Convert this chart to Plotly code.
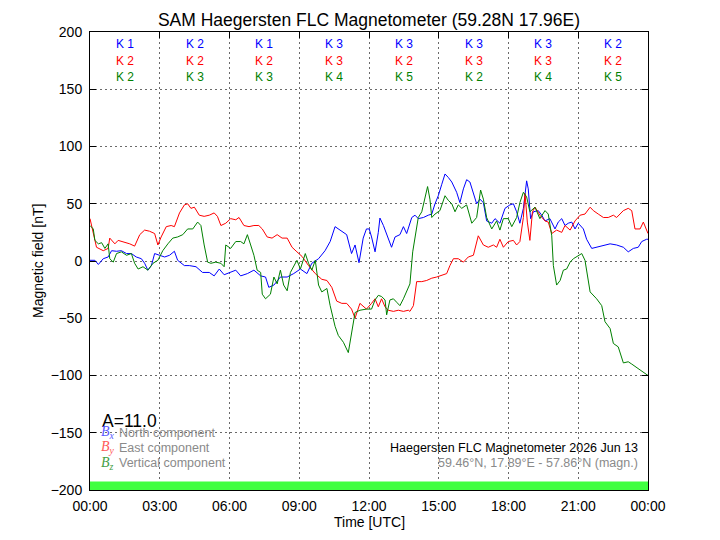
import plotly.graph_objects as go

# ---------------- data (hours UTC, nT) ----------------
t_bx = [0, 0.21, 0.36, 0.57, 0.78, 0.93, 1.14, 1.35, 1.57, 1.78, 1.99, 2.21, 2.35, 2.49, 2.64, 2.78, 2.99,
        3.21, 3.42, 3.63, 3.77, 4.06, 4.27, 4.56, 4.84, 5.13, 5.34, 5.56, 5.77, 6.05, 6.27, 6.48, 6.77, 7.05,
        7.34, 7.55, 7.69, 7.91, 8.19, 8.48, 8.76, 9.05, 9.33, 9.54, 9.83, 10.11, 10.33, 10.54, 10.75, 11.04,
        11.25, 11.40, 11.57, 11.75, 11.89, 12.01,
        12.11, 12.26, 12.40, 12.47, 12.62, 12.76, 12.97, 13.12, 13.33, 13.48, 13.62, 13.84, 13.98, 14.12,
        14.34, 14.55, 14.70, 14.84, 14.98, 15.13, 15.27, 15.41, 15.56, 15.77, 15.91, 16.06, 16.20, 16.34,
        16.49, 16.63, 16.77, 16.92, 17.06, 17.28, 17.42, 17.63, 17.85, 18.06, 18.21, 18.35, 18.49, 18.64,
        18.78, 18.85, 18.95, 19.07, 19.28, 19.43, 19.57, 19.78, 20.00, 20.14, 20.29, 20.43, 20.57, 20.72,
        20.86, 21.00, 21.22, 21.36, 21.58, 21.79, 22.08, 22.37, 22.65, 22.94, 23.15, 23.37, 23.58, 23.73,
        23.94, 24.0]
bx = [0.6, 0.6, -3, 2, 3.5, 9, 8.5, 9, 6.5, 6.5, 3.5, 2, -2, -8, -4, 6.5, 5,
      3.5, 5, 8.5, 0.6, -4, -4, -5, -10, -10, -13, -7, -12, -10, -8, -13, -11, -8,
      -13, -14, -23, -21, -14, -14, -11, -7, -11, -2, 2, 9, 17, 30, 27, 23,
      6.5, 14, -1.5, 20, 28, 28,
      21, 8, 25, 37.5, 31, 24, 12, 21, 23, 30, 24, 38, 40, 37,
      38, 40, 41, 50, 57, 67, 76, 73, 69, 60, 51, 63, 71, 69,
      60, 50, 54, 51, 35, 33, 37, 33, 46, 49, 50, 43, 33, 46,
      70, 63, 37, 43, 44, 40, 35, 37, 28, 34, 37, 31, 33, 34,
      28, 33, 28, 19, 11, 12, 14, 15, 14, 12, 8, 11, 12, 17,
      19, 19]

t_by = [0, 0.14, 0.28, 0.57, 0.78, 0.85, 1.07, 1.21, 1.42, 1.71, 1.92, 2.14, 2.35, 2.56, 2.78, 2.92, 3.06,
        3.28, 3.49, 3.63, 3.85, 4.06, 4.20, 4.34, 4.49, 4.70, 4.91, 5.13, 5.34, 5.48, 5.63, 5.84, 6.05,
        6.27, 6.41, 6.62, 6.84, 7.05, 7.26, 7.41, 7.62, 7.83, 8.05, 8.26, 8.48, 8.69, 8.90, 9.12, 9.40,
        9.69, 9.97, 10.19, 10.40, 10.61, 10.83, 11.04, 11.25, 11.40, 11.61, 11.89,
        12.11, 12.26, 12.40, 12.54, 12.69, 12.83, 13.05, 13.26, 13.48, 13.69, 13.76, 13.91, 14.05, 14.27,
        14.48, 14.70, 14.91, 15.13, 15.34, 15.48, 15.63, 15.84, 16.06, 16.27, 16.49, 16.70, 16.92, 17.13,
        17.35, 17.49, 17.63, 17.78, 17.99, 18.21, 18.35, 18.49, 18.64, 18.71, 18.81, 18.92, 19.03, 19.14,
        19.35, 19.57, 19.71, 19.86, 20.07, 20.29, 20.43, 20.65, 20.86, 21.08, 21.29, 21.51, 21.65, 21.86,
        22.08, 22.29, 22.51, 22.65, 22.94, 23.15, 23.30, 23.44, 23.66, 23.80, 23.97, 24.0]
by = [37, 23, 12, 9, 11, 20, 15, 18, 17, 15, 13, 23, 27, 26, 24, 14, 21,
      30, 31, 30, 42, 49, 50, 46, 47, 40, 39, 40, 42, 39, 31, 33, 37,
      36, 38, 31, 30, 31, 31, 28, 21, 20, 23, 20, 20, 12, 8, 4, -4,
      -11, -16, -17, -23, -35, -37, -37, -42, -50, -37, -42,
      -37, -33, -40, -33, -40, -43, -44, -43, -44, -43, -44, -39, -18, -18,
      -17, -15, -14, -12.5, -11, -4, 2, 2, -1, 3.5, 5, 22, 14, 12,
      14, 12, 19, 12, 17, 18, 14, 17, 38, 59, 34, 18, 43, 47,
      40, 35, 34, 24, 27, 25, 31, 27, 35, 40, 41, 47, 44, 41,
      38, 38, 40, 38, 44, 46, 44, 28, 28, 34, 25, 24]

t_bz = [0, 0.14, 0.21, 0.36, 0.50, 0.64, 0.78, 0.85, 1.00, 1.14, 1.35, 1.57, 1.78, 1.92, 2.07, 2.28, 2.49,
        2.71, 2.92, 3.13, 3.35, 3.56, 3.77, 3.99, 4.20, 4.42, 4.63, 4.77, 4.91, 5.06, 5.20, 5.41, 5.63,
        5.77, 5.84, 6.05, 6.27, 6.48, 6.62, 6.77, 6.91, 7.05, 7.19, 7.34, 7.41, 7.55, 7.76, 7.91, 8.05,
        8.19, 8.33, 8.48, 8.62, 8.76, 8.90, 9.05, 9.19, 9.26, 9.40, 9.54, 9.69, 9.83, 9.97, 10.19, 10.33,
        10.54, 10.68, 10.90, 11.11, 11.25, 11.40, 11.61, 11.89,
        12.11, 12.26, 12.40, 12.54, 12.69, 12.76, 12.90, 13.05, 13.19, 13.33, 13.48, 13.62, 13.76, 13.88,
        13.98, 14.12, 14.27, 14.41, 14.52, 14.62, 14.70, 14.84, 15.05, 15.27, 15.41, 15.56, 15.70, 15.84,
        15.99, 16.20, 16.42, 16.63, 16.80, 16.92, 17.06, 17.28, 17.49, 17.63, 17.78, 17.99, 18.14, 18.35,
        18.49, 18.64, 18.78, 18.92, 19.14, 19.35, 19.57, 19.71, 19.86, 19.93, 20.07, 20.22, 20.36, 20.50,
        20.65, 20.79, 21.00, 21.15, 21.29, 21.51, 21.79, 22.01, 22.15, 22.37, 22.51, 22.72, 22.94, 23.15,
        23.30, 23.51, 23.73, 23.94, 24.0]
bz = [31, 28, 18, 15, 16, 11, 15, 2, -1, 6.5, 8, 5, 6.5, -2, -7, -5, -8,
      -2, 0.6, 9, 15, 20, 21, 23, 28, 28, 34, 31, 14, -1, -2, -1, -2,
      -5, 14, 11, 17, 17, 15, 23, 14, 5, -8, -10, -29, -33, -29, -14, -20,
      -8, -21, -26, -10, -4, 0.6, -7, 2, 6.5, -2, -8, 0.6, -21, -27, -24, -39,
      -57, -65, -71, -80, -62, -45, -43, -42,
      -42, -34, -30, -31, -34, -47, -34, -33, -36, -39, -33, -26, -20, 8,
      22, 38, 43, 54, 65, 54, 38, 41, 44, 57, 53, 50, 43, 49,
      46, 49, 33, 38, 62, 54, 38, 28, 35, 27, 37, 37, 30, 38,
      51, 60, 56, 43, 47, 37, 44, 41, 22, -4, -21, -17, -8, -7,
      -1, 2, 5, 6.5, 0.6, -27, -33, -39, -53, -59, -72, -75, -89, -88,
      -90, -93, -96, -99, -100]

k_bin_hours = [1.5, 4.5, 7.5, 10.5, 13.5, 16.5, 19.5, 22.5]
k_x = [1, 2, 1, 3, 3, 3, 3, 2]
k_y = [2, 2, 2, 3, 2, 3, 3, 2]
k_z = [2, 3, 3, 4, 5, 2, 4, 5]

a_index = 11.0
status_hours = [0, 24]
status_band = [-200, -192.5]

x_tickvals = [0, 3, 6, 9, 12, 15, 18, 21, 24]
x_ticktext = ["00:00", "03:00", "06:00", "09:00", "12:00", "15:00", "18:00", "21:00", "00:00"]
y_tickvals = [-200, -150, -100, -50, 0, 50, 100, 150, 200]

# ---------------- figure ----------------
FONT = "Liberation Sans, Arial, Helvetica, sans-serif"
BLUE, RED, GREEN = "#0000ff", "#ff0000", "#008000"

fig = go.Figure()
for t, v, c, n in [(t_bx, bx, BLUE, "Bx"), (t_by, by, RED, "By"), (t_bz, bz, GREEN, "Bz")]:
    fig.add_trace(go.Scatter(x=t, y=v, mode="lines", line=dict(color=c, width=1), name=n,
                             showlegend=False, hoverinfo="skip"))

fig.add_shape(type="rect", xref="x", yref="y",
              x0=status_hours[0], x1=status_hours[1], y0=status_band[0], y1=status_band[1],
              fillcolor="#40ff40", line=dict(width=0), layer="above")

ann = []
rows = [(k_x, BLUE, 0.9738), (k_y, RED, 0.9367), (k_z, GREEN, 0.9017)]
for vals, col, yp in rows:
    for h, k in zip(k_bin_hours, vals):
        ann.append(dict(x=h, y=yp, xref="x", yref="paper", text=f"K {k}", showarrow=False,
                        xanchor="center", yanchor="middle", font=dict(family=FONT, size=12, color=col)))

ann.append(dict(x=0.0179, y=0.1507, xref="paper", yref="paper", text=f"A={a_index:.1f}", showarrow=False,
                xanchor="left", yanchor="middle", font=dict(family=FONT, size=17.5, color="black")))

legend_rows = [("x", "North component", "#5a5aff", 0.1255),
               ("y", "East component", "#ff5a5a", 0.0921),
               ("z", "Vertical component", "#44a044", 0.0583)]
for sub, label, col, yp in legend_rows:
    ann.append(dict(x=0.0168, y=yp, xref="paper", yref="paper", text=f"<i>B</i><sub><i>{sub}</i></sub>",
                    showarrow=False, xanchor="left", yanchor="middle",
                    font=dict(family="Liberation Serif, DejaVu Serif, serif", size=14, color=col)))
    ann.append(dict(x=0.0489, y=yp, xref="paper", yref="paper", text=label, showarrow=False,
                    xanchor="left", yanchor="middle", font=dict(family=FONT, size=12.5, color="#8a8a8a")))

ann.append(dict(x=0.9857, y=0.0910, xref="paper", yref="paper",
                text="Haegersten FLC Magnetometer 2026 Jun 13", showarrow=False,
                xanchor="right", yanchor="middle", font=dict(family=FONT, size=12.5, color="black")))
ann.append(dict(x=0.9857, y=0.0583, xref="paper", yref="paper",
                text="59.46°N, 17.89°E - 57.86°N (magn.)", showarrow=False,
                xanchor="right", yanchor="middle", font=dict(family=FONT, size=12.5, color="#8a8a8a")))

ann.append(dict(x=-0.0932, y=0.5, xref="paper", yref="paper", text="Magnetic field [nT]", showarrow=False,
                textangle=-90, xanchor="center", yanchor="middle", font=dict(family=FONT, size=14, color="black")))
ann.append(dict(x=0.5, y=-0.0699, xref="paper", yref="paper", text="Time [UTC]", showarrow=False,
                xanchor="center", yanchor="middle", font=dict(family=FONT, size=14, color="black")))

fig.update_layout(
    width=720, height=540,
    margin=dict(l=90, r=72, t=32, b=50),
    paper_bgcolor="white", plot_bgcolor="white",
    title=dict(text="SAM Haegersten FLC Magnetometer (59.28N 17.96E)", x=369 / 720,
               xanchor="center", y=1 - 20 / 540, yanchor="middle",
               font=dict(family=FONT, size=17.5, color="black")),
    annotations=ann,
    font=dict(family=FONT, size=14, color="black"),
)

common = dict(showline=True, linecolor="black", linewidth=1, mirror="ticks",
              ticks="inside", ticklen=6, tickwidth=1, tickcolor="black",
              showgrid=True, gridcolor="#6a6a6a", gridwidth=1, griddash="2px,3px",
              zeroline=False, tickfont=dict(family=FONT, size=14, color="black"))
fig.update_xaxes(range=[0, 24], tickvals=x_tickvals, ticktext=x_ticktext, ticklabelstandoff=3, **common)
fig.update_yaxes(range=[-200, 200], tickvals=y_tickvals, ticklabelstandoff=4, **common)

fig.write_html("out.html")
